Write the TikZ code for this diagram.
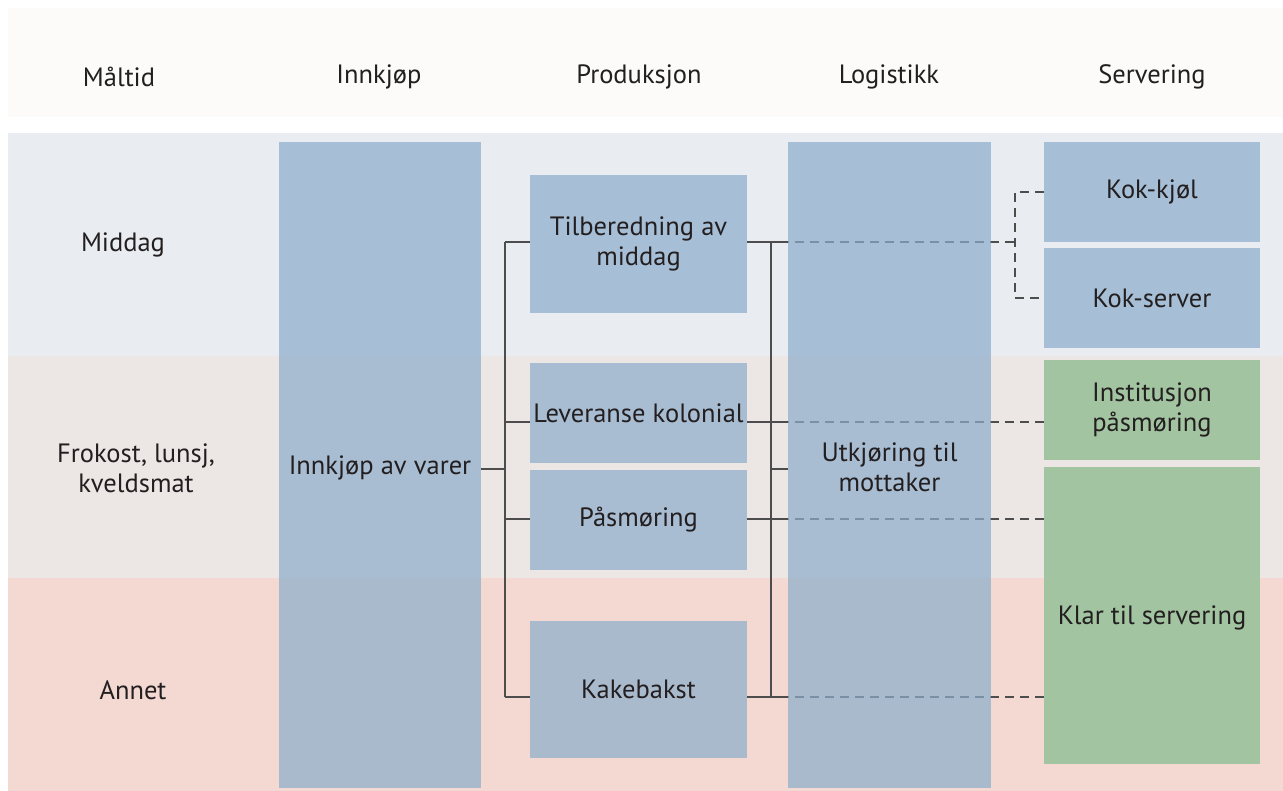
\documentclass[tikz,border=0pt]{standalone}
\usepackage{fontspec}
\setmainfont{PT Sans}
\definecolor{hdrbg}{HTML}{FDFBFA}
\definecolor{bandA}{HTML}{E9ECF0}
\definecolor{bandB}{HTML}{ECE6E5}
\definecolor{bandC}{HTML}{F3D9D2}
\definecolor{boxblue}{RGB}{140,173,203}
\definecolor{boxgreen}{HTML}{A2C4A1}
\definecolor{lncol}{HTML}{4D4D4D}
\definecolor{txt}{HTML}{231F20}
\pgfdeclarelayer{bands}
\pgfdeclarelayer{edges}
\pgfsetlayers{bands,edges,main}
\begin{document}
\begin{tikzpicture}[x=1pt,y=-1pt,
  every node/.style={text=txt, font=\fontsize{26.5}{30}\selectfont, align=center},
  hdr/.style={inner sep=0pt},
  blue/.style={fill=boxblue, fill opacity=0.7, text opacity=1, draw=none, inner sep=0pt},
  green/.style={fill=boxgreen, draw=none, inner sep=0pt},
  sz/.style 2 args={minimum width=#1pt, minimum height=#2pt},
  ln/.style={draw=lncol, line width=1.4pt},
  dl/.style={draw=lncol, line width=1.4pt, dash pattern=on 9pt off 6pt}]
\useasboundingbox (0,0) rectangle (1283,791);
\begin{pgfonlayer}{bands}
  \fill[white] (0,0) rectangle (1283,791);
  \fill[hdrbg] (8,8) rectangle (1283,117);
  \fill[bandA] (8,133) rectangle (1283,356);
  \fill[bandB] (8,356) rectangle (1283,578);
  \fill[bandC] (8,578) rectangle (1283,791);
\end{pgfonlayer}
% headers
\node[hdr] (h1) at (119,77) {Måltid};
\node[hdr] (h2) at (379,77) {Innkjøp};
\node[hdr] (h3) at (639,77) {Produksjon};
\node[hdr] (h4) at (889,77) {Logistikk};
\node[hdr] (h5) at (1152,77) {Servering};
% row labels
\node[hdr] (r1) at (123,245) {Middag};
\node[hdr] (r2) at (136,468) {Frokost, lunsj,\\kveldsmat};
\node[hdr] (r3) at (133,690) {Annet};
% columns
\node[blue, sz={202}{646}] (inn) at (380,465) {};
\node (innt) at (380,468) {Innkjøp av varer};
\node[blue, sz={203}{646}] (log) at (889.5,465) {};
\node (logt) at (889.5,467) {Utkjøring til\\mottaker};
% production
\node[blue, sz={217}{138}] (tilb) at (638.5,244) {Tilberedning av\\middag};
\node[blue, sz={217}{100}] (lev) at (638.5,413) {Leveranse kolonial};
\node[blue, sz={217}{100}] (pas) at (638.5,520) {Påsmøring};
\node[blue, sz={217}{137}] (kake) at (638.5,689.5) {Kakebakst};
% servering
\node[blue, sz={216}{100}] (kk) at (1152,192) {Kok-kjøl};
\node[blue, sz={216}{100}] (ks) at (1152,298) {Kok-server};
\node[green, sz={216}{100}] (inst) at (1152,410) {Institusjon\\påsmøring};
\node[green, sz={216}{297}] (klar) at (1152,615.5) {};
\node (klart) at (1152,618) {Klar til servering};
% bus coordinates
\coordinate (L1) at (505,242);
\coordinate (L2) at (505,422);
\coordinate (L3) at (505,519);
\coordinate (L4) at (505,697);
\coordinate (Lm) at (505,469);
\coordinate (R1) at (771,242);
\coordinate (R2) at (771,422);
\coordinate (R3) at (771,519);
\coordinate (R4) at (771,697);
\coordinate (Rm) at (771,469);
\coordinate (E1) at (780,242);
\coordinate (E2) at (780,422);
\coordinate (E3) at (780,519);
\coordinate (E4) at (780,697);
\coordinate (F) at (1015,242);
\begin{pgfonlayer}{edges}
  \draw[ln] (L1) -- (L4);
  \draw[ln] (R1) -- (R4);
  \draw[ln] (inn.east |- Lm) -- (Lm);
  \draw[ln] (L1) -- (L1 -| tilb.west);
  \draw[ln] (L2) -- (L2 -| lev.west);
  \draw[ln] (L3) -- (L3 -| pas.west);
  \draw[ln] (L4) -- (L4 -| kake.west);
  \draw[ln] (tilb.east |- R1) -- (E1);
  \draw[ln] (lev.east |- R2) -- (E2);
  \draw[ln] (pas.east |- R3) -- (E3);
  \draw[ln] (kake.east |- R4) -- (E4);
  \draw[ln] (Rm) -- (Rm -| log.west);
  \draw[dl] (E1) -- (F);
  \draw[dl] (kk.west) -- (kk.west -| F) -- (ks.west -| F) -- (ks.west);
  \draw[dl] (E2) -- (E2 -| inst.west);
  \draw[dl] (E3) -- (E3 -| klar.west);
  \draw[dl] (E4) -- (E4 -| klar.west);
\end{pgfonlayer}
\end{tikzpicture}
\end{document}
